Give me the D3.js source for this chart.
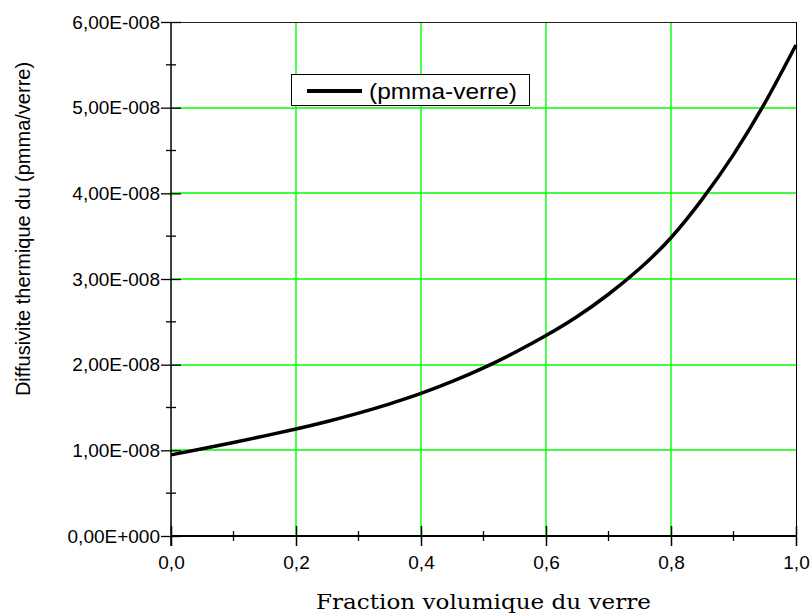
<!DOCTYPE html>
<html>
<head>
<meta charset="utf-8">
<script src="https://cdn.jsdelivr.net/npm/d3@7"></script>
<style>
  html, body { margin: 0; padding: 0; background: #fff; }
  svg { display: block; }
</style>
</head>
<body>
<svg id="chart" width="811" height="613"></svg>
<script>
// ---- data ----
const fraction = [0.00,0.05,0.10,0.15,0.20,0.25,0.30,0.35,0.40,0.45,0.50,0.55,0.60,0.65,0.70,0.75,0.80,0.85,0.90,0.95,1.00];
const diffusivity = [0.947e-8,1.018e-8,1.092e-8,1.169e-8,1.249e-8,1.337e-8,1.434e-8,1.543e-8,1.664e-8,1.804e-8,1.962e-8,2.142e-8,2.340e-8,2.562e-8,2.822e-8,3.122e-8,3.482e-8,3.932e-8,4.452e-8,5.052e-8,5.732e-8];
const xTickValues = [0,0.2,0.4,0.6,0.8,1.0];
const xTickLabels = ["0,0","0,2","0,4","0,6","0,8","1,0"];
const xMinorValues = [0.1,0.3,0.5,0.7,0.9];
const yTickValues = [0,1e-8,2e-8,3e-8,4e-8,5e-8,6e-8];
const yTickLabels = ["0,00E+000","1,00E-008","2,00E-008","3,00E-008","4,00E-008","5,00E-008","6,00E-008"];
const yMinorValues = [0.5e-8,1.5e-8,2.5e-8,3.5e-8,4.5e-8,5.5e-8];
const seriesName = "(pmma-verre)";
const xTitle = "Fraction volumique du verre";
const yTitle = "Diffusivite thermique du (pmma/verre)";

// ---- layout ----
const L = 171, R = 796, T = 22, B = 536;
const svg = d3.select("#chart");
const x = d3.scaleLinear().domain([0,1]).range([L,R]);
const y = d3.scaleLinear().domain([0,6e-8]).range([B,T]);
const green = "#00ff00";
const font = "Arial, 'Liberation Sans', sans-serif";

// grid
svg.append("g").selectAll("line").data(xTickValues.slice(1,-1)).join("line")
  .attr("x1", d=>Math.round(x(d))).attr("x2", d=>Math.round(x(d))).attr("y1", T).attr("y2", B)
  .attr("stroke", green).attr("stroke-width", 1.4);
svg.append("g").selectAll("line").data(yTickValues.slice(1,-1)).join("line")
  .attr("x1", L).attr("x2", R).attr("y1", d=>Math.round(y(d))).attr("y2", d=>Math.round(y(d)))
  .attr("stroke", green).attr("stroke-width", 1.4);

// frame (top, right)
svg.append("line").attr("x1", L).attr("x2", R).attr("y1", T+0.5).attr("y2", T+0.5)
  .attr("stroke", "#222").attr("stroke-width", 1);
svg.append("line").attr("x1", R+0.5).attr("x2", R+0.5).attr("y1", T).attr("y2", B)
  .attr("stroke", "#000").attr("stroke-width", 1);

// Y axis
const yAxis = svg.append("g").attr("transform", `translate(${L},0)`)
  .call(d3.axisLeft(y).tickValues(yTickValues).tickSize(10).tickPadding(1)
    .tickFormat((d,i)=>yTickLabels[i]));
yAxis.select(".domain").remove();
yAxis.selectAll(".tick line").attr("x1", 10).attr("x2", -10).attr("stroke","#000").attr("stroke-width",1.3);
yAxis.selectAll(".tick text").attr("font-family", font).attr("font-size", 19).attr("fill","#000");
yAxis.append("line").attr("x1",0).attr("x2",0).attr("y1",T).attr("y2",B+10)
  .attr("stroke","#000").attr("stroke-width",1.5);
yAxis.append("g").selectAll("line").data(yMinorValues).join("line")
  .attr("x1",-5).attr("x2",5).attr("y1",d=>y(d)).attr("y2",d=>y(d))
  .attr("stroke","#000").attr("stroke-width",1.3);

// X axis
const xAxis = svg.append("g").attr("transform", `translate(0,${B})`)
  .call(d3.axisBottom(x).tickValues(xTickValues).tickSize(10).tickPadding(10)
    .tickFormat((d,i)=>xTickLabels[i]));
xAxis.select(".domain").remove();
xAxis.selectAll(".tick line").attr("y1", -10).attr("y2", 10).attr("stroke","#000").attr("stroke-width",1.5);
xAxis.selectAll(".tick text").attr("font-family", font).attr("font-size", 19).attr("fill","#000");
xAxis.append("line").attr("x1",L).attr("x2",R).attr("y1",0).attr("y2",0)
  .attr("stroke","#000").attr("stroke-width",2);
xAxis.append("g").selectAll("line").data(xMinorValues).join("line")
  .attr("x1",d=>x(d)).attr("x2",d=>x(d)).attr("y1",-5).attr("y2",5)
  .attr("stroke","#000").attr("stroke-width",1.3);

// curve
const pts = fraction.map((f,i)=>[f, diffusivity[i]]);
svg.append("path").datum(pts)
  .attr("d", d3.line().x(d=>x(d[0])).y(d=>y(d[1])).curve(d3.curveNatural))
  .attr("fill","none").attr("stroke","#000").attr("stroke-width",3.5);

// legend
const lg = svg.append("g");
lg.append("rect").attr("x",291.5).attr("y",74.5).attr("width",238).attr("height",31)
  .attr("fill","#fff").attr("stroke","#000").attr("stroke-width",1);
lg.append("line").attr("x1",307).attr("x2",362).attr("y1",91).attr("y2",91)
  .attr("stroke","#000").attr("stroke-width",4);
lg.append("text").attr("x",369).attr("y",99).text(seriesName)
  .attr("font-family",font).attr("font-size",22.5)
  .attr("textLength",148).attr("lengthAdjust","spacingAndGlyphs").attr("fill","#000");

// titles
svg.append("text").attr("x",(L+R)/2).attr("y",609).attr("text-anchor","middle")
  .attr("font-family","'DejaVu Serif', serif").attr("font-size",20.5)
  .attr("textLength",335).attr("lengthAdjust","spacingAndGlyphs")
  .attr("fill","#000").text(xTitle);
svg.append("text").attr("transform","translate(30,229) rotate(-90)")
  .attr("text-anchor","middle").attr("font-family",font).attr("font-size",20)
  .attr("fill","#000").text(yTitle);
</script>
</body>
</html>
